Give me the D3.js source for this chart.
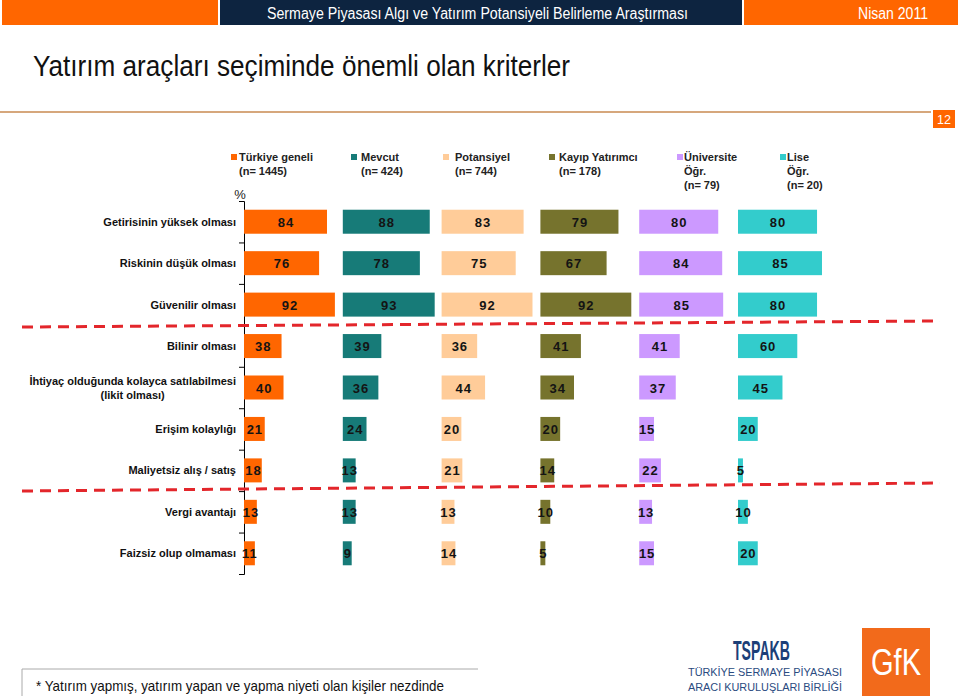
<!DOCTYPE html>
<html><head><meta charset="utf-8">
<script src="https://cdn.jsdelivr.net/npm/d3@7/dist/d3.min.js"></script>
<style>
body{margin:0;background:#fff;}
svg{display:block;}
.sans{font-family:"Liberation Sans",Arial,Helvetica,sans-serif;}
</style></head>
<body>
<svg id="chart" width="960" height="696"></svg>
<script>
const categories = [
  ["Getirisinin yüksek olması"],
  ["Riskinin düşük olması"],
  ["Güvenilir olması"],
  ["Bilinir olması"],
  ["İhtiyaç olduğunda kolayca satılabilmesi", "(likit olması)"],
  ["Erişim kolaylığı"],
  ["Maliyetsiz alış /  satış"],
  ["Vergi avantajı"],
  ["Faizsiz olup olmaması"]
];
const seriesNames = ["Türkiye geneli", "Mevcut", "Potansiyel", "Kayıp Yatırımcı", "Üniversite Öğr.", "Lise Öğr."];
const legendLines = [
  ["Türkiye geneli", "(n= 1445)"],
  ["Mevcut", "(n= 424)"],
  ["Potansiyel", "(n= 744)"],
  ["Kayıp Yatırımcı", "(n= 178)"],
  ["Üniversite", "Öğr.", "(n= 79)"],
  ["Lise", "Öğr.", "(n= 20)"]
];
const seriesColors = ["#ff6600", "#177b78", "#ffcc99", "#76732d", "#cc99ff", "#33cccc"];
const turkiye    = [84, 76, 92, 38, 40, 21, 18, 13, 11];
const mevcut     = [88, 78, 93, 39, 36, 24, 13, 13, 9];
const potansiyel = [83, 75, 92, 36, 44, 20, 21, 13, 14];
const kayip      = [79, 67, 92, 41, 34, 20, 14, 10, 5];
const universite = [80, 84, 85, 41, 37, 15, 22, 13, 15];
const lise       = [80, 85, 80, 60, 45, 20, 5, 10, 20];
const seriesValues = [turkiye, mevcut, potansiyel, kayip, universite, lise];
const separatorsAfter = [2, 6]; // dashed lines after these category indexes

const svg = d3.select("#chart");

// narrow text helper (emulates a condensed face by compressing glyphs)
function narrowText(xp, yp, size, len, txt, fill, anchor, weight) {
  return svg.append("text").attr("class", "sans").attr("x", xp).attr("y", yp)
    .attr("font-size", size).attr("fill", fill).attr("text-anchor", anchor || "start")
    .attr("font-weight", weight || "normal")
    .attr("textLength", len).attr("lengthAdjust", "spacingAndGlyphs").text(txt);
}

// ---------- header ----------
svg.append("rect").attr("x", 2).attr("y", 0).attr("width", 216).attr("height", 25).attr("fill", "#ff6600");
svg.append("rect").attr("x", 220).attr("y", 0).attr("width", 522).attr("height", 25).attr("fill", "#0d2440");
svg.append("rect").attr("x", 744).attr("y", 0).attr("width", 214).attr("height", 25).attr("fill", "#ff6600");
narrowText(267, 19, 16, 421, "Sermaye Piyasası Algı ve Yatırım Potansiyeli Belirleme Araştırması", "#fff");
narrowText(858, 19, 16, 70, "Nisan 2011", "#fff");

// title
narrowText(33, 76, 29, 537, "Yatırım araçları seçiminde önemli olan kriterler", "#111");
svg.append("line").attr("x1", 0).attr("x2", 931).attr("y1", 112).attr("y2", 112)
  .attr("stroke", "#d6a77c").attr("stroke-width", 2);
svg.append("rect").attr("x", 933).attr("y", 110).attr("width", 22).attr("height", 18).attr("fill", "#ff6600");
narrowText(937, 124, 13, 14, "12", "#fff");

// ---------- scales ----------
const axisX = 244;
const panelW = 98.8;
const panel = d3.scaleBand().domain(d3.range(seriesNames.length))
  .range([axisX, axisX + panelW * seriesNames.length]).paddingInner(0);
const x = d3.scaleLinear().domain([0, 100]).range([0, panelW]);
const y = d3.scaleBand().domain(d3.range(categories.length)).range([201, 574]).paddingInner(0);
const barH = 24;

// legend
const legendSquareX = [231, 351, 443, 549, 677, 780];
const legendTextX = [239, 361, 455, 559, 684, 787];
legendLines.forEach((lines, i) => {
  svg.append("rect").attr("x", legendSquareX[i]).attr("y", 154).attr("width", 6).attr("height", 6).attr("fill", seriesColors[i]);
  lines.forEach((t, j) => {
    svg.append("text").attr("class", "sans").attr("x", legendTextX[i]).attr("y", 161 + j * 14)
      .attr("font-size", 11).attr("font-weight", "bold").attr("fill", "#222").text(t);
  });
});
svg.append("text").attr("class", "sans").attr("x", 240).attr("y", 199).attr("text-anchor", "middle")
  .attr("font-size", 13).attr("fill", "#222").text("%");

// axis
const yAxisScale = d3.scaleLinear().domain([0, categories.length]).range([201, 574]);
const axis = d3.axisLeft(yAxisScale).tickValues(d3.range(categories.length + 1)).tickSize(5).tickFormat("");
const ag = svg.append("g").attr("transform", `translate(${axisX},0)`).call(axis);
ag.selectAll("path,line").attr("stroke", "#000").attr("stroke-width", 1);

// category labels
categories.forEach((lines, i) => {
  const cy = y(i) + y.bandwidth() / 2;
  if (lines.length === 1) {
    svg.append("text").attr("class", "sans").attr("x", 236).attr("y", cy + 4).attr("text-anchor", "end")
      .attr("font-size", 11).attr("font-weight", "bold").attr("fill", "#111").text(lines[0]);
  } else {
    const t1 = svg.append("text").attr("class", "sans").attr("x", 236).attr("y", cy - 3).attr("text-anchor", "end")
      .attr("font-size", 11).attr("font-weight", "bold").attr("fill", "#111").text(lines[0]);
    const w = t1.node().getComputedTextLength();
    svg.append("text").attr("class", "sans").attr("x", 236 - w / 2).attr("y", cy + 11).attr("text-anchor", "middle")
      .attr("font-size", 11).attr("font-weight", "bold").attr("fill", "#111").text(lines[1]);
  }
});

// bars
seriesValues.forEach((vals, s) => {
  const g = svg.append("g");
  g.selectAll("rect").data(vals).join("rect")
    .attr("x", panel(s))
    .attr("y", (d, i) => y(i) + (y.bandwidth() - barH) / 2)
    .attr("width", d => x(d))
    .attr("height", barH)
    .attr("fill", seriesColors[s]);
  g.selectAll("text").data(vals).join("text")
    .attr("class", "sans")
    .attr("x", d => panel(s) + x(d) / 2 + 0.5)
    .attr("y", (d, i) => y(i) + y.bandwidth() / 2 + 5)
    .attr("text-anchor", "middle")
    .attr("font-size", 13).attr("font-weight", "bold").attr("letter-spacing", 1)
    .attr("fill", "#141414")
    .text(d => d);
});

// dashed separators
const sepY = [[327, 321], [491, 483]];
separatorsAfter.forEach((k, i) => {
  svg.append("line").attr("x1", 22).attr("x2", 940)
    .attr("y1", sepY[i][0]).attr("y2", sepY[i][1])
    .attr("stroke", "#e3262b").attr("stroke-width", 3).attr("stroke-dasharray", "11,7");
});

// footer
svg.append("path").attr("d", "M22,696 V669 H478").attr("fill", "none").attr("stroke", "#aaa").attr("stroke-width", 1);
narrowText(36, 691, 15, 408, "*  Yatırım yapmış, yatırım yapan ve yapma niyeti olan kişiler nezdinde", "#111");

// logos
narrowText(733, 660, 28, 57, "TSPAKB", "#1c3f78", "start", "bold");
narrowText(688, 676, 10, 154, "TÜRKİYE SERMAYE PİYASASI", "#2a4a80");
narrowText(688, 691, 10, 154, "ARACI KURULUŞLARI BİRLİĞİ", "#2a4a80");
svg.append("rect").attr("x", 862).attr("y", 628).attr("width", 68).attr("height", 68).attr("fill", "#f26a1b");
narrowText(871, 675, 36, 50, "GfK", "#fff");
</script>
</body></html>
